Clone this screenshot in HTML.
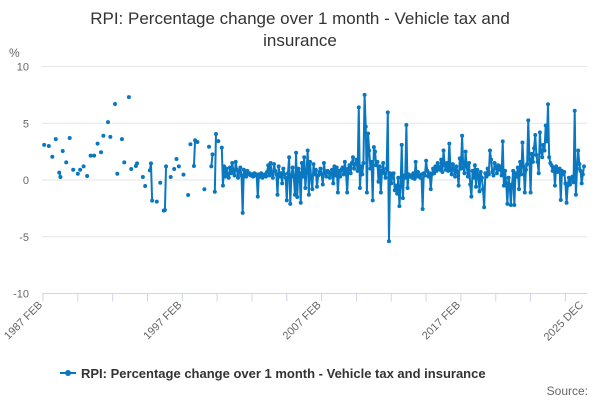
<!DOCTYPE html>
<html><head><meta charset="utf-8">
<style>
body{margin:0;background:#fff;font-family:"Liberation Sans",sans-serif;}
svg{display:block}
</style></head>
<body>
<svg id="chart" width="600" height="400">
<text x="300" y="24" text-anchor="middle" font-size="17" fill="#333">RPI: Percentage change over 1 month - Vehicle tax and</text>
<text x="300" y="46" text-anchor="middle" font-size="17" fill="#333">insurance</text>
<text x="9" y="57" font-size="12" fill="#666">%</text>
<g id="grid"></g><g id="xaxis"></g><g id="series"></g>
<g>
<line x1="60" y1="373" x2="76" y2="373" stroke="#0a78c0" stroke-width="2"/>
<circle cx="68" cy="373" r="3" fill="#0a78c0"/>
<text x="81" y="378" font-size="13" font-weight="bold" fill="#333">RPI: Percentage change over 1 month - Vehicle tax and insurance</text>
</g>
<text x="588" y="395" text-anchor="end" font-size="12" fill="#666">Source:</text>
</svg>
<script>
const yTicks=[10,5,0,-5,-10];
const xLabels=["1987 FEB","1997 FEB","2007 FEB","2017 FEB","2025 DEC"];
const xLabelIdx=[0,120,240,360,466];
const values=[
null,3.1,null,null,null,3.0,null,null,2.05,null,null,3.6,
null,null,0.65,0.26,null,2.55,null,null,1.55,null,null,3.7,
null,null,0.9,null,null,null,0.55,null,0.9,null,null,1.2,
null,null,0.35,null,null,2.15,null,null,2.15,null,null,3.2,
null,null,2.45,null,3.9,null,null,null,5.1,null,3.8,null,
null,null,6.7,null,0.55,null,null,null,3.6,null,1.55,null,
null,null,7.3,null,0.97,null,null,null,1.23,1.47,null,null,
null,null,0.26,null,-0.53,null,null,null,0.85,1.47,-1.82,null,
null,null,-1.9,null,null,-0.24,null,null,-2.7,-2.64,1.2,null,
null,null,0.26,null,null,0.97,null,1.85,null,1.2,null,null,
null,0.47,null,null,null,-1.32,null,3.15,null,null,1.23,3.5,
null,3.35,null,null,null,null,null,-0.82,null,null,null,2.93,
null,1.2,2.26,null,-1.03,4.05,null,3.43,null,null,2.85,-0.5,
1.2,0.3,1.0,0.5,0.2,1.1,0.6,1.5,0.8,0.4,1.6,0.9,
0.2,0.7,1.1,0.4,-2.9,0.9,0.6,0.3,0.8,0.5,0.6,0.4,
0.5,0.3,0.6,0.4,0.5,-1.47,0.5,0.3,0.6,0.2,0.4,0.5,
0.3,0.7,1.3,0.4,1.5,0.6,0.2,1.4,0.8,0.5,-1.3,1.2,
0.3,0.6,-0.3,1.0,0.5,0.2,-1.8,0.6,2.0,-2.1,0.4,1.1,
0.3,-1.3,2.4,-1.5,1.0,0.6,-2.0,1.5,0.3,2.0,-0.7,0.8,
2.6,-1.3,1.6,0.2,-0.8,1.4,0.5,0.9,-0.6,0.4,0.7,1.0,
0.5,-0.4,1.5,0.6,0.3,0.8,0.7,0.2,0.5,0.9,-0.3,1.2,
0.4,1.1,-1.1,0.8,0.3,0.9,1.1,0.5,1.6,0.7,-1.1,1.0,
1.3,0.6,1.5,2.0,1.0,1.4,1.8,0.8,6.4,-0.7,1.2,0.5,
1.5,7.5,4.7,-1.1,4.1,2.6,1.0,1.6,-1.8,2.9,2.5,1.3,
1.6,-0.15,1.2,-1.1,0.8,1.5,0.6,0.2,1.0,5.96,-5.4,0.6,
-0.3,0.4,0.6,-0.9,-0.5,-1.2,0.2,-2.3,-0.6,3.1,-1.6,0.4,
0.2,4.85,-0.7,0.5,0.3,0.4,0.2,0.6,0.1,1.6,0.3,0.7,
0.4,0.2,0.5,-2.55,0.6,0.4,1.7,0.8,0.3,0.6,-0.8,0.5,
1.0,0.6,1.2,0.8,1.5,1.1,0.9,1.8,0.7,2.6,1.3,0.9,
1.5,0.8,3.2,1.0,0.5,1.4,0.9,0.3,1.2,0.7,-0.5,1.9,
1.0,3.9,1.1,0.6,2.5,1.2,0.3,1.5,-0.4,-1.47,0.8,0.2,
1.3,-0.6,0.9,0.4,-1.0,0.7,0.2,-0.8,-2.4,0.6,0.3,1.0,
0.5,2.6,1.8,0.7,0.4,1.5,1.1,0.6,1.3,0.9,1.2,0.4,
3.4,-0.5,0.8,-0.3,-2.1,0.2,-0.5,-2.2,-0.4,0.8,-2.2,0.6,
0.3,1.1,-0.8,1.6,0.5,3.3,1.2,-1.1,0.9,1.4,5.25,1.8,
-1.1,2.3,1.6,2.8,3.96,2.2,1.6,0.6,4.2,2.5,2.0,3.1,
2.6,4.8,3.4,6.67,2.0,1.5,1.3,0.8,1.1,-0.5,1.2,0.7,
0.9,1.0,-1.76,0.8,0.5,0.7,-0.3,-2.0,-0.5,0.2,-0.4,0.1,
0.3,-0.2,6.1,-1.3,1.0,2.6,1.4,0.8,-0.3,0.5,1.2
];
const NS="http://www.w3.org/2000/svg";
const X0=43,X1=584,Y0=180,PPU=11.35;
const N=values.length;
function xs(i){return X0+(X1-X0)*i/(N-1);}
function ys(v){return Y0-v*PPU;}
function mk(t,a,p){const e=document.createElementNS(NS,t);for(const k in a)e.setAttribute(k,a[k]);p.appendChild(e);return e;}
const grid=document.getElementById('grid');
yTicks.forEach(v=>{
  const l=mk('line',{x1:X0-1,x2:X1+3,y1:ys(v),y2:ys(v),stroke:v===-10?'#ccd6eb':'#e6e6e6','stroke-width':1},grid);
  
  
  const t=mk('text',{x:29,y:ys(v)+4,'text-anchor':'end','font-size':11,fill:'#666'},grid);
  t.textContent=v;
  
  
});
const xa=document.getElementById('xaxis');
for(let i=0;i<N;i+=30){
  const tk=mk('line',{x1:xs(i),x2:xs(i),y1:ys(-10),y2:ys(-10)+8,stroke:'#ccd6eb'},xa);
  
  
}
xLabels.forEach((s,k)=>{
  const x=xs(xLabelIdx[k]);
  const t=mk('text',{x:x,y:ys(-10)+12,'text-anchor':'end','font-size':11,fill:'#666',transform:`rotate(-45 ${x} ${ys(-10)+12})`},xa);
  t.textContent=s;
  
  
});
const sg=document.getElementById('series');
let d='',pen=false;
values.forEach((v,i)=>{
  if(v===null){pen=false;return;}
  d+=(pen?'L':'M')+xs(i).toFixed(2)+' '+ys(v).toFixed(2)+' ';pen=true;
});
const path=mk('path',{d:d,fill:'none',stroke:'#0a78c0','stroke-width':2,'stroke-linejoin':'round'},sg);


values.forEach((v,i)=>{
  if(v===null)return;
  const c=mk('circle',{cx:xs(i),cy:ys(v),r:2,fill:'#0a78c0'},sg);
  
  
});
</script>
</body></html>
